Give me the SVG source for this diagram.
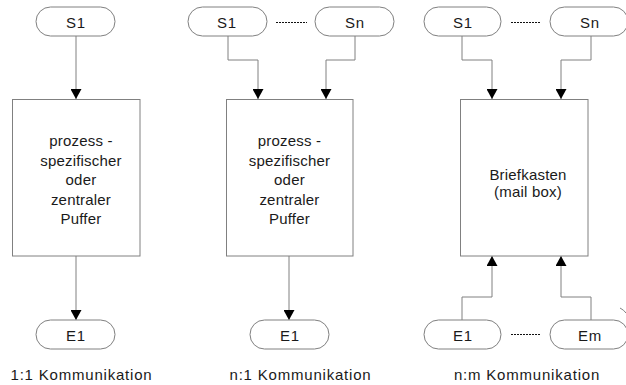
<svg xmlns="http://www.w3.org/2000/svg" width="626" height="385" viewBox="0 0 626 385">
<defs>
<marker id="arr" markerUnits="userSpaceOnUse" markerWidth="10" markerHeight="11" refX="10" refY="5.5" orient="auto">
<path d="M0,0 L10,5.5 L0,11 z" fill="#000"/>
</marker>
<style>
.pill{fill:#fff;stroke:#808080;stroke-width:1}
.box{fill:#fff;stroke:#808080;stroke-width:1}
.con{fill:none;stroke:#808080;stroke-width:1}
.dot{fill:none;stroke:#111;stroke-width:1;stroke-dasharray:2,1}
.t{font-family:"Liberation Sans",Arial,sans-serif;font-size:15px;fill:#1a1a1a;text-anchor:middle;letter-spacing:0.2px}
.pt{font-family:"Liberation Sans",Arial,sans-serif;font-size:15px;fill:#1a1a1a;text-anchor:middle;letter-spacing:0.8px}
.lbl{font-family:"Liberation Sans",Arial,sans-serif;font-size:15px;fill:#1a1a1a;text-anchor:middle;letter-spacing:0.8px}
</style>
</defs>
<rect width="626" height="385" fill="#fff"/>

<g id="connectors">
<path class="con" d="M76,36 V99" marker-end="url(#arr)"/>
<path class="con" d="M76,256 V320" marker-end="url(#arr)"/>
<path class="con" d="M228,36 V60 H258 V99" marker-end="url(#arr)"/>
<path class="con" d="M355,36 V60 H326 V99" marker-end="url(#arr)"/>
<path class="con" d="M289,256 V320" marker-end="url(#arr)"/>
<path class="con" d="M462,36 V60 H492 V99" marker-end="url(#arr)"/>
<path class="con" d="M591,36 V60 H561 V99" marker-end="url(#arr)"/>
<path class="con" d="M462,320 V297 H492 V256" marker-end="url(#arr)"/>
<path class="con" d="M591,320 V297 H561 V256" marker-end="url(#arr)"/>
<path class="dot" d="M276,22.5 H307"/>
<path class="dot" d="M511,22.5 H541"/>
<path class="dot" d="M511,334.5 H541"/>
<path class="con" d="M620,308 Q624,310 626,313"/>
</g>

<g id="p1-S1"><rect class="pill" x="36" y="7" width="79" height="29" rx="14.5"/><text class="pt" x="76" y="27.5">S1</text></g>
<g id="p1-box"><rect class="box" x="12.5" y="99.5" width="127.5" height="156.5"/>
<text class="t" x="81" y="146">prozess -</text>
<text class="t" x="81" y="165.5">spezifischer</text>
<text class="t" x="81" y="185">oder</text>
<text class="t" x="81" y="204.5">zentraler</text>
<text class="t" x="81" y="224">Puffer</text></g>
<g id="p1-E1"><rect class="pill" x="36" y="320" width="79" height="29" rx="14.5"/><text class="pt" x="76" y="340.5">E1</text></g>
<g id="p1-label"><text class="lbl" x="81.5" y="380">1:1 Kommunikation</text></g>

<g id="p2-S1"><rect class="pill" x="188" y="7" width="79" height="29" rx="14.5"/><text class="pt" x="227" y="27.5">S1</text></g>
<g id="p2-Sn"><rect class="pill" x="315" y="7" width="79" height="29" rx="14.5"/><text class="pt" x="355" y="27.5">Sn</text></g>
<g id="p2-box"><rect class="box" x="226.5" y="99.5" width="126.5" height="156.5"/>
<text class="t" x="289.5" y="146">prozess -</text>
<text class="t" x="289.5" y="165.5">spezifischer</text>
<text class="t" x="289.5" y="185">oder</text>
<text class="t" x="289.5" y="204.5">zentraler</text>
<text class="t" x="289.5" y="224">Puffer</text></g>
<g id="p2-E1"><rect class="pill" x="250" y="320" width="79" height="29" rx="14.5"/><text class="pt" x="290" y="340.5">E1</text></g>
<g id="p2-label"><text class="lbl" x="300.5" y="380">n:1 Kommunikation</text></g>

<g id="p3-S1"><rect class="pill" x="424" y="7" width="77" height="29" rx="14.5"/><text class="pt" x="463" y="27.5">S1</text></g>
<g id="p3-Sn"><rect class="pill" x="550" y="7" width="78" height="29" rx="14.5"/><text class="pt" x="590" y="27.5">Sn</text></g>
<g id="p3-box"><rect class="box" x="460.5" y="99.5" width="127.5" height="156.5"/>
<text class="t" x="528" y="180">Briefkasten</text>
<text class="t" x="528" y="197">(mail box)</text></g>
<g id="p3-E1"><rect class="pill" x="424" y="320" width="77" height="29" rx="14.5"/><text class="pt" x="463" y="340.5">E1</text></g>
<g id="p3-Em"><rect class="pill" x="550" y="320" width="78" height="29" rx="14.5"/><text class="pt" x="590" y="340.5">Em</text></g>
<g id="p3-label"><text class="lbl" x="527" y="380">n:m Kommunikation</text></g>
</svg>
